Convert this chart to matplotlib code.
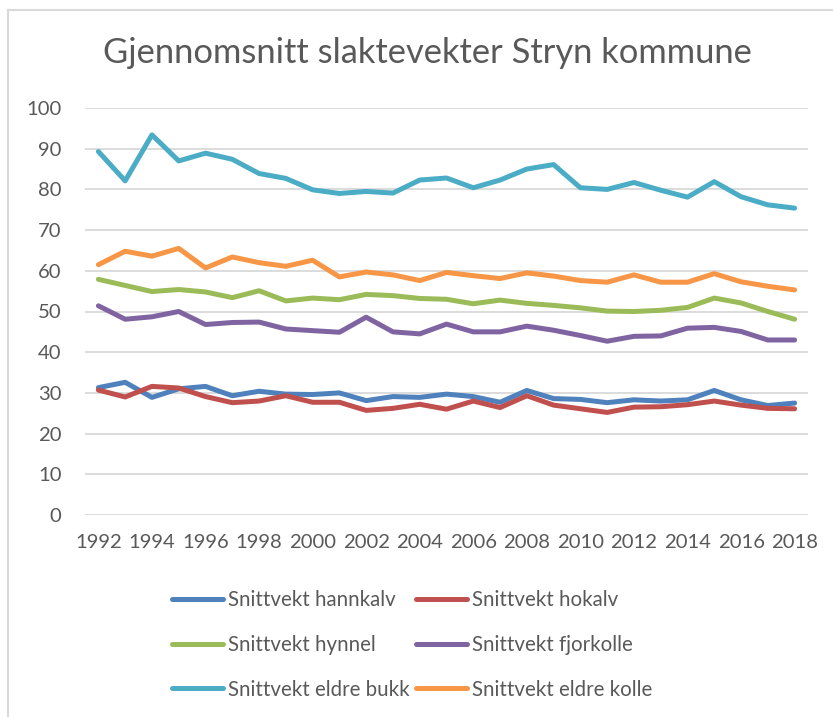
import numpy as np
import matplotlib
matplotlib.use("Agg")
import matplotlib.pyplot as plt
from matplotlib.lines import Line2D

plt.rcParams["font.family"] = ["Lato", "DejaVu Sans"]

years = list(range(1992, 2019))
hannkalv = [31.3, 32.6, 28.9, 31.0, 31.6, 29.3, 30.4, 29.7, 29.6, 30.0, 28.1, 29.1, 28.9, 29.7,
            29.1, 27.7, 30.6, 28.6, 28.4, 27.6, 28.3, 28.0, 28.3, 30.6, 28.3, 26.9, 27.5]
hokalv = [30.7, 29.0, 31.6, 31.2, 29.1, 27.6, 28.0, 29.3, 27.7, 27.7, 25.7, 26.2, 27.2, 26.0,
          28.0, 26.4, 29.3, 27.0, 26.1, 25.2, 26.5, 26.6, 27.1, 28.0, 27.0, 26.2, 26.1]
hynnel = [57.9, 56.4, 54.9, 55.4, 54.8, 53.4, 55.1, 52.6, 53.3, 52.9, 54.2, 53.9, 53.2, 53.0,
          51.9, 52.8, 52.0, 51.5, 50.9, 50.1, 50.0, 50.3, 51.0, 53.3, 52.1, 50.0, 48.1]
fjorkolle = [51.4, 48.1, 48.7, 50.0, 46.8, 47.3, 47.4, 45.7, 45.3, 44.9, 48.6, 45.0, 44.5, 46.9,
             45.0, 45.0, 46.4, 45.4, 44.1, 42.7, 43.9, 44.0, 45.9, 46.1, 45.1, 43.0, 43.0]
eldre_bukk = [89.3, 82.1, 93.4, 87.0, 88.9, 87.4, 83.9, 82.7, 79.9, 79.0, 79.5, 79.1, 82.3, 82.8,
              80.4, 82.3, 85.0, 86.1, 80.4, 80.0, 81.7, 79.8, 78.1, 81.9, 78.2, 76.2, 75.4]
eldre_kolle = [61.5, 64.8, 63.6, 65.5, 60.7, 63.4, 62.0, 61.1, 62.6, 58.5, 59.7, 59.0, 57.6, 59.6,
               58.8, 58.1, 59.5, 58.7, 57.6, 57.2, 59.0, 57.2, 57.2, 59.3, 57.3, 56.2, 55.3]

series = [
    ("Snittvekt hannkalv", hannkalv, "#4F81BD"),
    ("Snittvekt hokalv", hokalv, "#C0504D"),
    ("Snittvekt hynnel", hynnel, "#9BBB59"),
    ("Snittvekt fjorkolle", fjorkolle, "#8064A2"),
    ("Snittvekt eldre bukk", eldre_bukk, "#4BACC6"),
    ("Snittvekt eldre kolle", eldre_kolle, "#F79646"),
]
text_color = "#595959"
grid_color = "#D9D9D9"

fig = plt.figure(figsize=(8.33, 7.17), dpi=100)
ax = fig.add_axes([85 / 833, 1 - 515 / 717, 723 / 833, 407 / 717])

handles = []
for label, values, color in series:
    (ln,) = ax.plot(years, values, color=color, linewidth=3.6,
                    solid_capstyle="round", solid_joinstyle="round", label=label)
    handles.append(ln)

ax.set_xlim(1991.5, 2018.5)
ax.set_ylim(0, 100)
ax.set_yticks(np.arange(0, 101, 10))
ax.set_xticks(years[::2])
ax.yaxis.grid(True, color=grid_color, linewidth=1.3)
ax.set_axisbelow(True)
for s in ax.spines.values():
    s.set_visible(False)
ax.tick_params(axis="both", length=0, labelsize=14.6, colors=text_color)
ax.tick_params(axis="y", pad=17)
ax.tick_params(axis="x", pad=14)

fig.text(427 / 833, 1 - 53 / 717, "Gjennomsnitt slaktevekter Stryn kommune",
         ha="center", va="center", fontsize=24.8, color=text_color)

# legend is filled column-wise, so reorder to get row-wise layout
order = [0, 2, 4, 1, 3, 5]
leg = fig.legend([handles[i] for i in order], [series[i][0] for i in order],
                 loc="center", bbox_to_anchor=(412 / 833, 1 - 645 / 717), ncol=2,
                 frameon=False, fontsize=14.8, labelcolor=text_color,
                 handlelength=2.5, handletextpad=0.22, columnspacing=0.3,
                 labelspacing=1.2)

# thin outer chart frame (left and top edges visible)
fig.add_artist(Line2D([8 / 833, 8 / 833], [0, 1 - 10 / 717], color=grid_color,
                      linewidth=1.5, transform=fig.transFigure))
fig.add_artist(Line2D([8 / 833, 1], [1 - 10 / 717, 1 - 10 / 717], color=grid_color,
                      linewidth=1.5, transform=fig.transFigure))

plt.savefig("out.png", dpi=100)
